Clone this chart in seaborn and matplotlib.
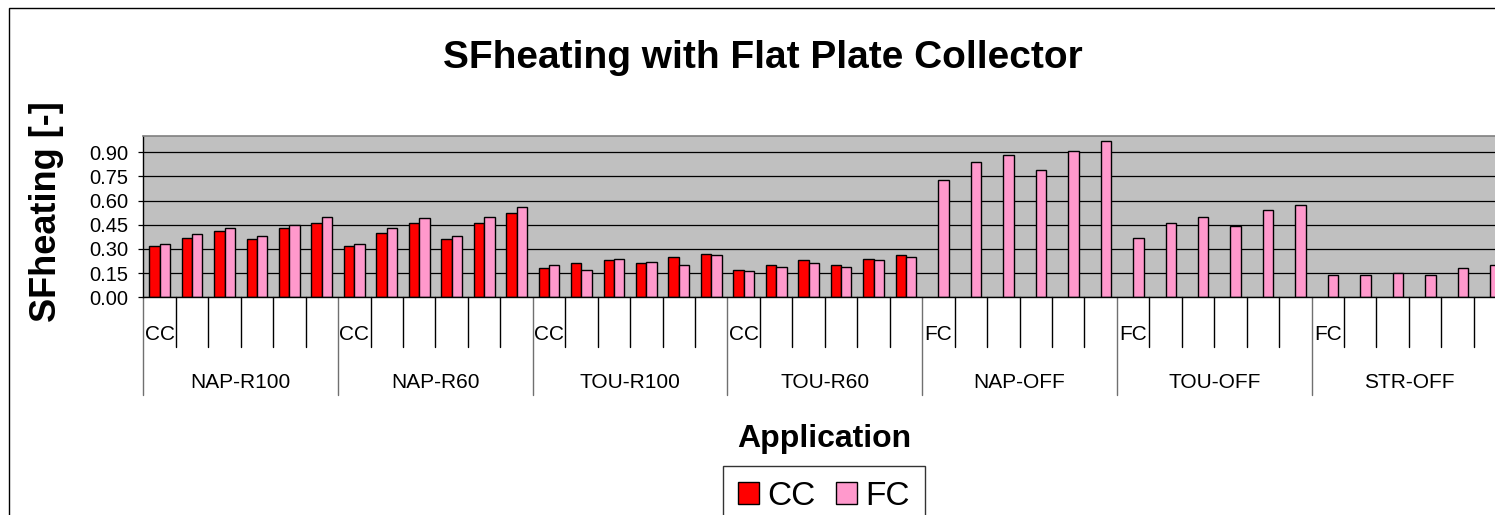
import numpy as np
import pandas as pd
import matplotlib
matplotlib.use("Agg")
import matplotlib.pyplot as plt
from matplotlib.patches import Patch, Rectangle
import seaborn as sns

# ---- data -------------------------------------------------------------
groups = ["NAP-R100", "NAP-R60", "TOU-R100", "TOU-R60", "NAP-OFF", "TOU-OFF", "STR-OFF"]
first_labels = ["CC", "CC", "CC", "CC", "FC", "FC", "FC"]
n_sub = 6

cc_nap_r100 = [0.32, 0.37, 0.41, 0.36, 0.43, 0.46]
cc_nap_r60 = [0.32, 0.40, 0.46, 0.36, 0.46, 0.52]
cc_tou_r100 = [0.18, 0.21, 0.23, 0.21, 0.25, 0.27]
cc_tou_r60 = [0.17, 0.20, 0.23, 0.20, 0.24, 0.26]

fc_nap_r100 = [0.33, 0.39, 0.43, 0.38, 0.45, 0.50]
fc_nap_r60 = [0.33, 0.43, 0.49, 0.38, 0.50, 0.56]
fc_tou_r100 = [0.20, 0.17, 0.24, 0.22, 0.20, 0.26]
fc_tou_r60 = [0.16, 0.19, 0.21, 0.19, 0.23, 0.25]
fc_nap_off = [0.73, 0.84, 0.88, 0.79, 0.91, 0.97]
fc_tou_off = [0.37, 0.46, 0.50, 0.44, 0.54, 0.57]
fc_str_off = [0.14, 0.14, 0.15, 0.14, 0.18, 0.20]

no_cc = [np.nan] * n_sub
cc_series = [cc_nap_r100, cc_nap_r60, cc_tou_r100, cc_tou_r60, no_cc, no_cc, no_cc]
fc_series = [fc_nap_r100, fc_nap_r60, fc_tou_r100, fc_tou_r60, fc_nap_off, fc_tou_off, fc_str_off]

y_ticks = [0.00, 0.15, 0.30, 0.45, 0.60, 0.75, 0.90]
colors = {"CC": "#FF0000", "FC": "#FF99CC"}

# ---- long-form table -------------------------------------------------
rows = []
order = []
for g, cc_vals, fc_vals in zip(groups, cc_series, fc_series):
    for i in range(n_sub):
        key = f"{g}#{i + 1}"
        order.append(key)
        rows.append({"case": key, "collector": "CC", "value": cc_vals[i]})
        rows.append({"case": key, "collector": "FC", "value": fc_vals[i]})
df = pd.DataFrame(rows)

# ---- styling -----------------------------------------------------------
sns.set_style("ticks")
plt.rcParams["font.family"] = ["Liberation Sans", "DejaVu Sans"]
plt.rcParams["text.color"] = "black"
plt.rcParams["axes.labelcolor"] = "black"
plt.rcParams["xtick.color"] = "black"
plt.rcParams["ytick.color"] = "black"

W, H = 1495, 515
fig = plt.figure(figsize=(W / 100, H / 100), dpi=100)

ax_left, ax_right = 143.4, 1506.3
ax_top, ax_bottom = 136.0, 297.3
ax = fig.add_axes([ax_left / W, 1 - ax_bottom / H,
                   (ax_right - ax_left) / W, (ax_bottom - ax_top) / H])
ax.set_facecolor("#C0C0C0")

sns.barplot(data=df, x="case", y="value", hue="collector", order=order,
            hue_order=["CC", "FC"], palette=colors, saturation=1, width=0.64,
            errorbar=None, edgecolor="black", linewidth=1.0,
            legend=False, ax=ax)

ax.set_xlim(-0.5, len(order) - 0.5)
ax.set_ylim(0, 1.0)
ax.set_yticks(y_ticks)
ax.set_yticklabels([f"{v:.2f}" for v in y_ticks], fontsize=14.5, color="black")
ax.yaxis.grid(True, color="black", linewidth=0.9)
ax.set_axisbelow(True)
ax.tick_params(axis="y", length=3.6, width=0.9, pad=7, color="black")
ax.set_xticks([])
ax.set_xlabel("")
ax.set_ylabel("")

for side in ("left", "bottom"):
    ax.spines[side].set_color("black")
    ax.spines[side].set_linewidth(1.0)
ax.spines["top"].set_color("#808080")
ax.spines["top"].set_linewidth(1.2)
ax.spines["right"].set_color("#808080")

# ---- two-level category axis ----------------------------------------
axis_h = ax_bottom - ax_top
sub_depth = -(347.0 - ax_bottom) / axis_h
grp_depth = -(395.0 - ax_bottom) / axis_h
sub_text_y = -(340.0 - ax_bottom) / axis_h
grp_text_y = -(388.3 - ax_bottom) / axis_h
trans = ax.get_xaxis_transform()

for k in range(len(order) + 1):
    xb = k - 0.5
    if k % n_sub == 0:
        ax.plot([xb, xb], [0, grp_depth], transform=trans, color="#707070",
                lw=1.0, clip_on=False)
    else:
        ax.plot([xb, xb], [0, sub_depth], transform=trans, color="black",
                lw=1.0, clip_on=False)

for gi, (g, lab) in enumerate(zip(groups, first_labels)):
    start = gi * n_sub
    ax.text(start, sub_text_y, lab, transform=trans, ha="center",
            va="baseline", fontsize=15, color="black")
    ax.text(start + (n_sub - 1) / 2, grp_text_y, g, transform=trans,
            ha="center", va="baseline", fontsize=15, color="black")

# ---- titles --------------------------------------------------------------
fig.text(763 / W, 1 - 68.3 / H, "SFheating with Flat Plate Collector",
         ha="center", va="baseline", fontsize=28, fontweight="bold", color="black")
fig.text(46.5 / W, 1 - 211.5 / H, "SFheating [-]", rotation=90,
         ha="center", va="center", fontsize=26, fontweight="bold", color="black")
fig.text(824 / W, 1 - 446.7 / H, "Application", ha="center",
         va="baseline", fontsize=23, fontweight="bold", color="black")

# ---- legend ----------------------------------------------------------------
handles = [Patch(facecolor=colors[c], edgecolor="black", linewidth=1.0, label=c)
           for c in ["CC", "FC"]]
leg = fig.legend(handles=handles, loc="upper center",
                 bbox_to_anchor=(824 / W, 1 - 466 / H), ncol=2, fontsize=24,
                 frameon=True, fancybox=False, edgecolor="black",
                 handlelength=0.63, handleheight=0.63, handletextpad=0.26,
                 columnspacing=0.6, borderpad=0.45, borderaxespad=0)
leg.get_frame().set_linewidth(1.0)
for t in leg.get_texts():
    t.set_color("black")

# ---- outer chart border ---------------------------------------------------
fig.patches.append(Rectangle((9 / W, -0.2), 1.2, 1.2 - 8 / H,
                             transform=fig.transFigure, fill=False,
                             edgecolor="black", linewidth=1.0))

fig.savefig("out.png", dpi=100)
